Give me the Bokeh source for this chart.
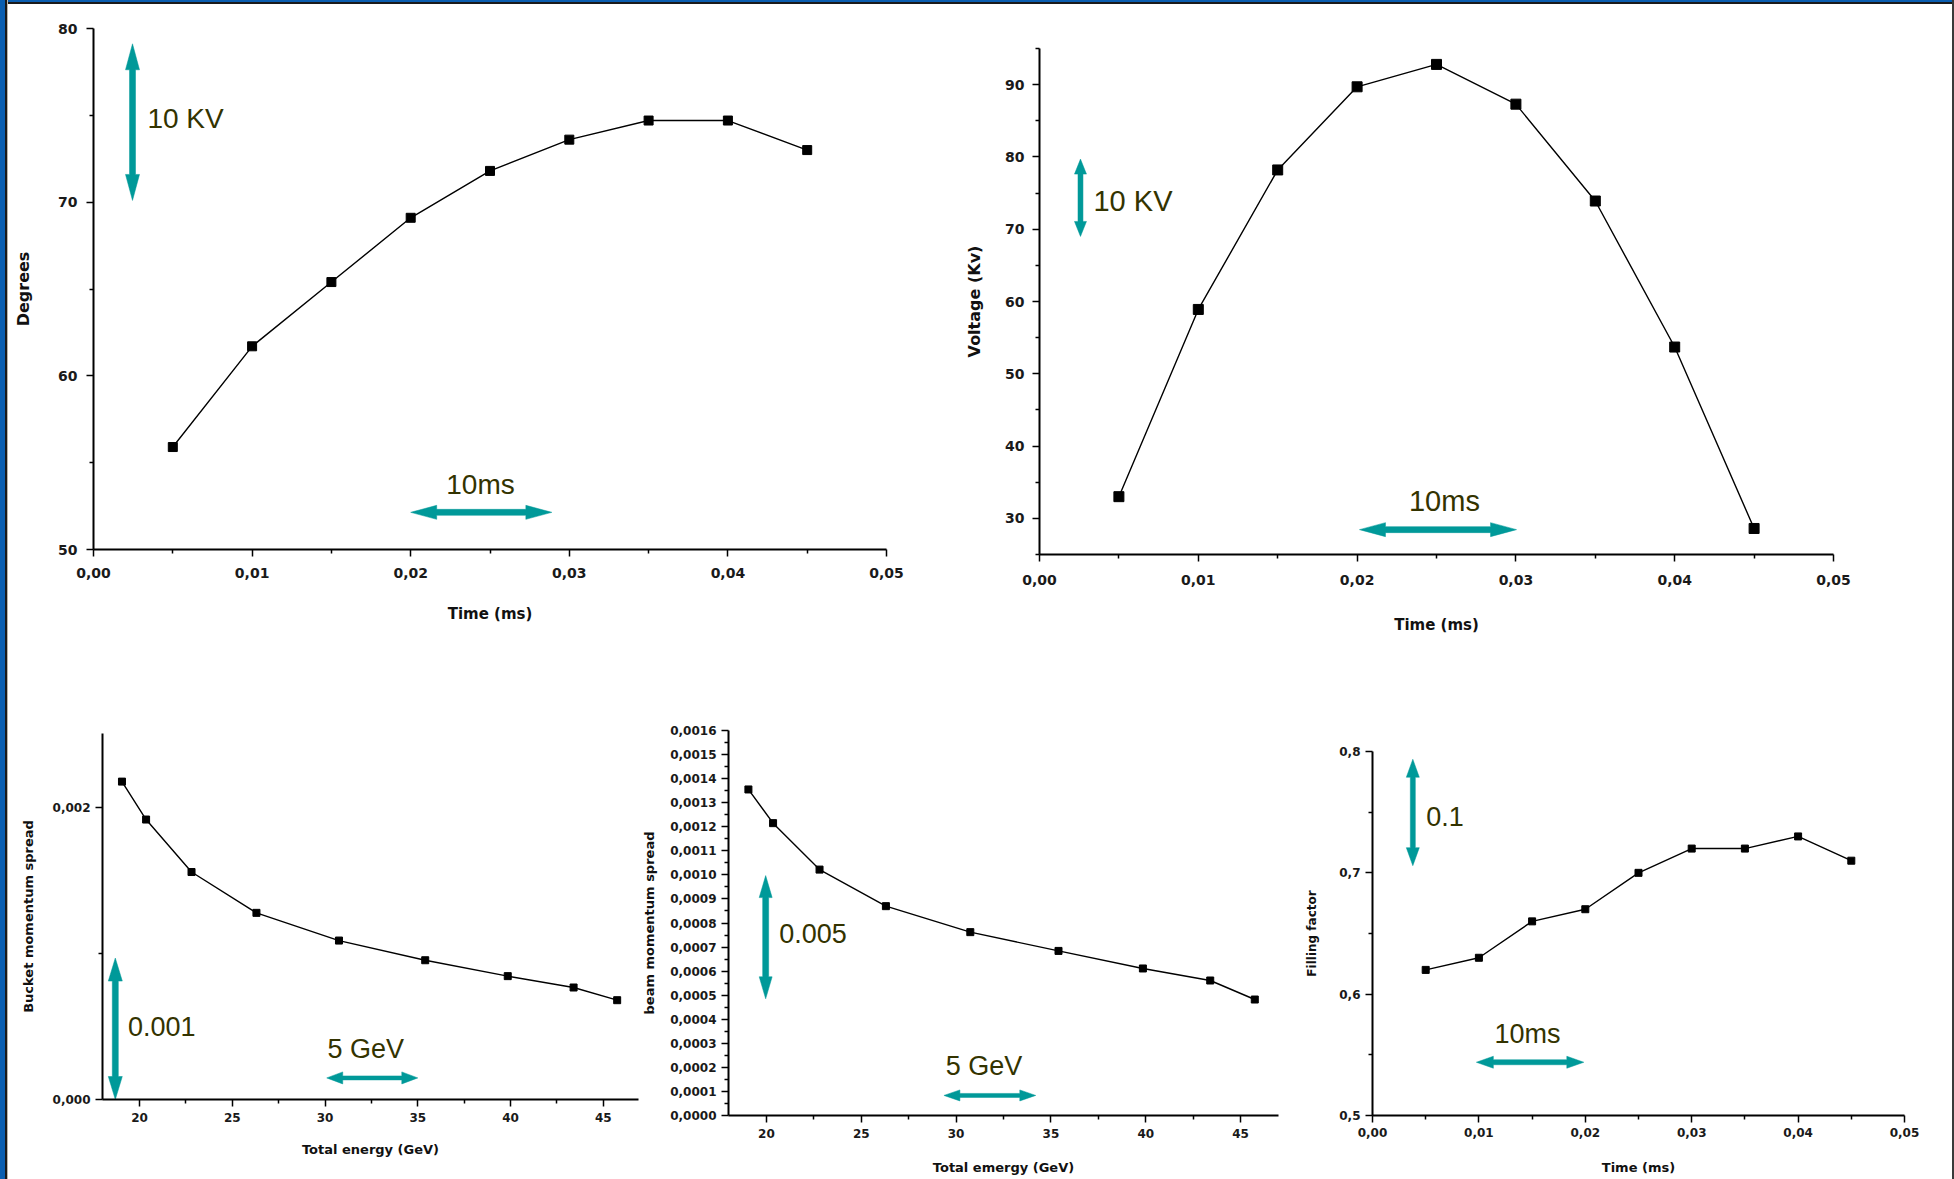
import math
from bokeh.plotting import figure
from bokeh.layouts import column, row
from bokeh.models import FixedTicker, CustomJSTickFormatter, Label, Range1d, Div
from bokeh.embed import file_html
from bokeh.resources import INLINE

# ---------------- data ----------------
time_ms = [0.005, 0.010, 0.015, 0.020, 0.025, 0.030, 0.035, 0.040, 0.045]
phase_deg = [55.9, 61.7, 65.4, 69.1, 71.8, 73.6, 74.7, 74.7, 73.0]
voltage_kv = [33.0, 58.9, 78.2, 89.7, 92.8, 87.3, 73.9, 53.7, 28.6]
energy_gev = [19.05, 20.35, 22.8, 26.3, 30.75, 35.4, 39.85, 43.4, 45.75]
bucket_spread = [0.00218, 0.00192, 0.00156, 0.00128, 0.00109, 0.000955, 0.000846, 0.000768, 0.000681]
beam_spread = [0.001355, 0.001215, 0.001022, 0.00087, 0.000762, 0.000684, 0.000611, 0.000561, 0.000482]
filling_factor = [0.62, 0.63, 0.66, 0.67, 0.70, 0.72, 0.72, 0.73, 0.71]

time_ticks = [0.0, 0.01, 0.02, 0.03, 0.04, 0.05]
time_minor = [0.005, 0.015, 0.025, 0.035, 0.045]
deg_ticks = [50, 60, 70, 80]
deg_minor = [55, 65, 75]
volt_ticks = [30, 40, 50, 60, 70, 80, 90]
volt_minor = [25, 35, 45, 55, 65, 75, 85, 95]
energy_ticks = [20, 25, 30, 35, 40, 45]
energy_minor = [22.5, 27.5, 32.5, 37.5, 42.5]
bucket_ticks = [0.0, 0.002]
bucket_minor = [0.001]
beam_ticks = [i * 0.0001 for i in range(17)]
beam_minor = [i * 0.0001 + 0.00005 for i in range(16)]
fill_ticks = [0.5, 0.6, 0.7, 0.8]
fill_minor = [0.55, 0.65, 0.75]

TEAL = "#009999"
OLIVE = "#333300"
TICK_FONT = "DejaVu Sans"


def fmt(dec):
    return CustomJSTickFormatter(code="return tick.toFixed(%d).replace('.', ',');" % dec)


def make_fig(w, h, ml, mr, mt, mb, xr, yr):
    p = figure(width=w, height=h, min_border_left=ml, min_border_right=mr,
               min_border_top=mt, min_border_bottom=mb,
               x_range=Range1d(*xr), y_range=Range1d(*yr), title=None,
               output_backend="svg", toolbar_location=None, tools="")
    p.frame_align = False
    p.outline_line_color = None
    p.xgrid.visible = False
    p.ygrid.visible = False
    p.background_fill_color = "white"
    p.border_fill_color = "white"
    p._fw = w - ml - mr
    p._fh = h - mt - mb
    return p


def style_axis(ax, label, label_size, label_standoff, tick_size, tick_standoff,
               ticks, minor, dec):
    ax.ticker = FixedTicker(ticks=ticks, minor_ticks=minor)
    ax.formatter = fmt(dec)
    ax.axis_label = label
    ax.axis_label_text_font = TICK_FONT
    ax.axis_label_text_font_style = "bold"
    ax.axis_label_text_font_size = label_size
    ax.axis_label_text_color = "#111111"
    ax.axis_label_standoff = label_standoff
    ax.major_label_text_font = TICK_FONT
    ax.major_label_text_font_style = "bold"
    ax.major_label_text_font_size = tick_size
    ax.major_label_text_color = "#1a1a1a"
    ax.major_label_standoff = tick_standoff
    ax.axis_line_color = "black"
    ax.axis_line_width = 2
    ax.major_tick_line_color = "black"
    ax.major_tick_line_width = 1.5
    ax.major_tick_in = 0
    ax.major_tick_out = 7
    ax.minor_tick_line_color = "black"
    ax.minor_tick_line_width = 1.5
    ax.minor_tick_in = 0
    ax.minor_tick_out = 4


def series(p, xs, ys, msize):
    p.line(xs, ys, line_color="black", line_width=1.4)
    p.scatter(xs, ys, marker="square", size=msize, fill_color="black", line_color="black")


def double_arrow(p, x0, y0, x1, y1, shaft, head_len, head_w):
    xr, yr = p.x_range, p.y_range
    kx = p._fw / (xr.end - xr.start)
    ky = p._fh / (yr.end - yr.start)
    ax, ay = x0 * kx, y0 * ky
    bx, by = x1 * kx, y1 * ky
    d = math.hypot(bx - ax, by - ay)
    ux, uy = (bx - ax) / d, (by - ay) / d
    nx, ny = -uy, ux
    pts = [
        (ax, ay),
        (ax + ux * head_len + nx * head_w / 2, ay + uy * head_len + ny * head_w / 2),
        (ax + ux * head_len + nx * shaft / 2, ay + uy * head_len + ny * shaft / 2),
        (bx - ux * head_len + nx * shaft / 2, by - uy * head_len + ny * shaft / 2),
        (bx - ux * head_len + nx * head_w / 2, by - uy * head_len + ny * head_w / 2),
        (bx, by),
        (bx - ux * head_len - nx * head_w / 2, by - uy * head_len - ny * head_w / 2),
        (bx - ux * head_len - nx * shaft / 2, by - uy * head_len - ny * shaft / 2),
        (ax + ux * head_len - nx * shaft / 2, ay + uy * head_len - ny * shaft / 2),
        (ax + ux * head_len - nx * head_w / 2, ay + uy * head_len - ny * head_w / 2),
    ]
    p.patch([q[0] / kx for q in pts], [q[1] / ky for q in pts],
            fill_color=TEAL, line_color=TEAL, line_width=0.5)


def note(p, x, y, text, size, align="left"):
    p.add_layout(Label(x=x, y=y, text=text, text_font="Liberation Sans",
                       text_font_size=size, text_color=OLIVE,
                       text_baseline="middle", text_align=align))


def gap(w, h):
    return Div(width=w, height=h, margin=0, text="", styles={"background": "white"})


# ---------------- plot 1: phase ----------------
p1 = make_fig(947, 646, 85, 69, 24, 101, (0, 0.05), (50, 80))
style_axis(p1.xaxis[0], "Time (ms)", "15px", 24, "14px", 11, time_ticks, time_minor, 2)
style_axis(p1.yaxis[0], "Degrees", "16px", 22, "14px", 9, deg_ticks, deg_minor, 0)
series(p1, time_ms, phase_deg, 9)
double_arrow(p1, 0.00246, 79.12, 0.00246, 70.1, 6, 26, 14)
note(p1, 0.0034, 74.8, "10 KV", "28px")
double_arrow(p1, 0.0200, 52.14, 0.0289, 52.14, 6, 26, 14)
note(p1, 0.0244, 53.75, "10ms", "28px", "center")

# ---------------- plot 2: voltage ----------------
p2 = make_fig(997, 646, 84, 119, 44, 96, (0, 0.05), (25, 95))
style_axis(p2.xaxis[0], "Time (ms)", "15px", 28, "14px", 13, time_ticks, time_minor, 2)
style_axis(p2.yaxis[0], "Voltage (Kv)", "16px", 18, "14px", 8, volt_ticks, volt_minor, 0)
series(p2, time_ms, voltage_kv, 10)
double_arrow(p2, 0.00258, 79.7, 0.00258, 69.0, 5, 15, 12)
note(p2, 0.0034, 73.84, "10 KV", "29px")
double_arrow(p2, 0.02015, 28.44, 0.03004, 28.44, 6, 26, 14)
note(p2, 0.0255, 32.38, "10ms", "29px", "center")

# ---------------- plot 3: bucket momentum spread ----------------
p3 = make_fig(631, 510, 94, 1, 80, 64, (18, 46.9), (0, 0.00251))
style_axis(p3.xaxis[0], "Total energy (GeV)", "13px", 17, "12px", 6, energy_ticks, energy_minor, 0)
style_axis(p3.yaxis[0], "Bucket momentum spread", "13px", 14, "12px", 5, bucket_ticks, bucket_minor, 3)
series(p3, energy_gev, bucket_spread, 7)
double_arrow(p3, 18.69, 0.00097, 18.69, 0.0, 6, 23, 14)
note(p3, 19.37, 0.000498, "0.001", "27px")
double_arrow(p3, 30.09, 0.000148, 35.0, 0.000148, 4, 16, 12)
note(p3, 30.13, 0.000349, "5 GeV", "27px")

# ---------------- plot 4: beam momentum spread ----------------
p4 = make_fig(661, 529, 87, 22, 80, 64, (18, 47), (0, 0.0016))
style_axis(p4.xaxis[0], "Total emergy (GeV)", "13px", 19, "12px", 6, energy_ticks, energy_minor, 0)
style_axis(p4.yaxis[0], "beam momentum spread", "13px", 10, "12px", 5, beam_ticks, beam_minor, 4)
series(p4, energy_gev, beam_spread, 7)
double_arrow(p4, 19.96, 0.000997, 19.96, 0.000485, 6, 22, 13)
note(p4, 20.67, 0.000755, "0.005", "27px")
double_arrow(p4, 29.36, 0.0000834, 34.2, 0.0000834, 4, 16, 11)
note(p4, 29.45, 0.000205, "5 GeV", "27px")

# ---------------- plot 5: filling factor ----------------
p5 = make_fig(652, 508, 72, 48, 80, 64, (0, 0.05), (0.5, 0.8))
style_axis(p5.xaxis[0], "Time (ms)", "13px", 20, "12px", 5, time_ticks, time_minor, 2)
style_axis(p5.yaxis[0], "Filling factor", "12px", 17, "12px", 5, fill_ticks, fill_minor, 1)
series(p5, time_ms, filling_factor, 7)
double_arrow(p5, 0.00379, 0.7936, 0.00379, 0.7059, 5, 18, 13)
note(p5, 0.00504, 0.7462, "0.1", "27px")
double_arrow(p5, 0.00976, 0.5439, 0.01986, 0.5439, 5, 17, 12)
note(p5, 0.01146, 0.5673, "10ms", "27px")

# slide frame strips
left_strip = Div(width=8, height=1179, margin=0, text="",
                 styles={"background": "linear-gradient(to right, #0a5eb0 0px, #0a5eb0 5px, "
                                       "#1a1a1a 5px, #1a1a1a 7px, #b9b5aa 7px, #b9b5aa 8px)"})
top_strip = Div(width=1944, height=4, margin=0, text="",
                styles={"background": "linear-gradient(to bottom, #0a5eb0 0px, #0a5eb0 2px, "
                                      "#1a1a1a 2px, #1a1a1a 4px)"})
right_strip = Div(width=2, height=1179, margin=0, text="",
                  styles={"background": "#3a3a3a"})

top_row = row(column(p1), column(p2))
bottom_row = row(column(gap(631, 3), p3, gap(631, 16)),
                 column(p4),
                 column(gap(652, 21), p5))
layout = row(left_strip, column(top_strip, top_row, bottom_row), right_strip)
open("out.html", "w").write(file_html(layout, INLINE))
